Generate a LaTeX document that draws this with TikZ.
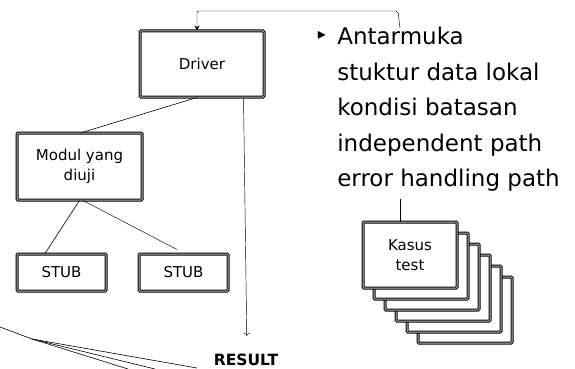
\documentclass[tikz,border=0pt]{standalone}
\usepackage{fontspec}
\setmainfont{DejaVu Sans}
\usetikzlibrary{calc,arrows.meta}

\tikzset{
  modbox/.style={draw=black, line width=1pt, double=gray!55, double distance=1pt,
    rounded corners=1pt, fill=white, align=center, inner sep=0pt,
    font=\fontsize{15}{19.5}\selectfont},
  thinline/.style={line width=0.45pt}
}

\begin{document}
\begin{tikzpicture}[x=1pt, y=-1pt, line width=0.6pt]
  %%%%% START %%%%%
  \useasboundingbox (0,0) rectangle (575,369);

  \node[modbox, minimum width=124, minimum height=66] (driver) at (202,64) {Driver};
  \node[modbox, minimum width=125, minimum height=67] (modul) at (79.5,166.5) {Modul yang\\diuji};
  \node[modbox, minimum width=89, minimum height=37] (stubA) at (61.5,272.5) {STUB};
  \node[modbox, minimum width=89, minimum height=37] (stubB) at (183.5,272.5) {STUB};

  \node[font=\bfseries\fontsize{15.5}{18}\selectfont, inner sep=0pt] (result) at (246,360) {RESULT};

  % daftar yang diuji
  \node[anchor=north west, inner sep=0pt, align=left, font=\fontsize{23}{35.5}\selectfont] (ciri) at (337,27)
    {Antarmuka\\stuktur data lokal\\kondisi batasan\\independent path\\error handling path};
  \node[inner sep=0pt, font=\fontsize{16}{16}\selectfont] (bullet) at (322,35) {▸};

  % tumpukan kasus test
  \foreach \i in {5,4,...,1}
    \draw[modbox] ($(363,222)+(11*\i,11*\i)$) rectangle ++(94,66);
  \node[modbox, minimum width=94, minimum height=66] (kasus) at (410,255) {Kasus\\test};

  \coordinate (antar) at ($(ciri.north west)+(63,1)$);
  \coordinate (kasustop) at ([xshift=-10pt]kasus.north);

  \draw[-{Stealth[length=5pt,width=5pt]}, rounded corners=2pt, thinline]
    (antar) -- (398,11) -- (197,11) -- ([xshift=-5pt]driver.north);
  \draw ([xshift=-5pt]driver.south) -- ([xshift=2.5pt]modul.north);
  \draw[-{To[length=3pt]}, thinline, shorten >=18pt] ([xshift=-21pt]driver.south east) -- ([xshift=1pt]result.north);
  \draw (modul.south) -- ([xshift=-16.5pt]stubA.north);
  \draw[thinline] ([xshift=3.5pt]modul.south) -- ([xshift=-6.5pt,yshift=4pt]stubB.north);
  \draw[shorten <=7pt] (kasustop |- ciri.south) -- (kasustop);

  % garis di kiri bawah
  \coordinate (fan) at (32,339);
  \draw (fan) -- (0,327);
  \draw (fan) -- (197,368);
  \draw (fan) -- (155,369);
  \draw (fan) -- (128,369);
  %%%%% END %%%%%
\end{tikzpicture}
\end{document}
